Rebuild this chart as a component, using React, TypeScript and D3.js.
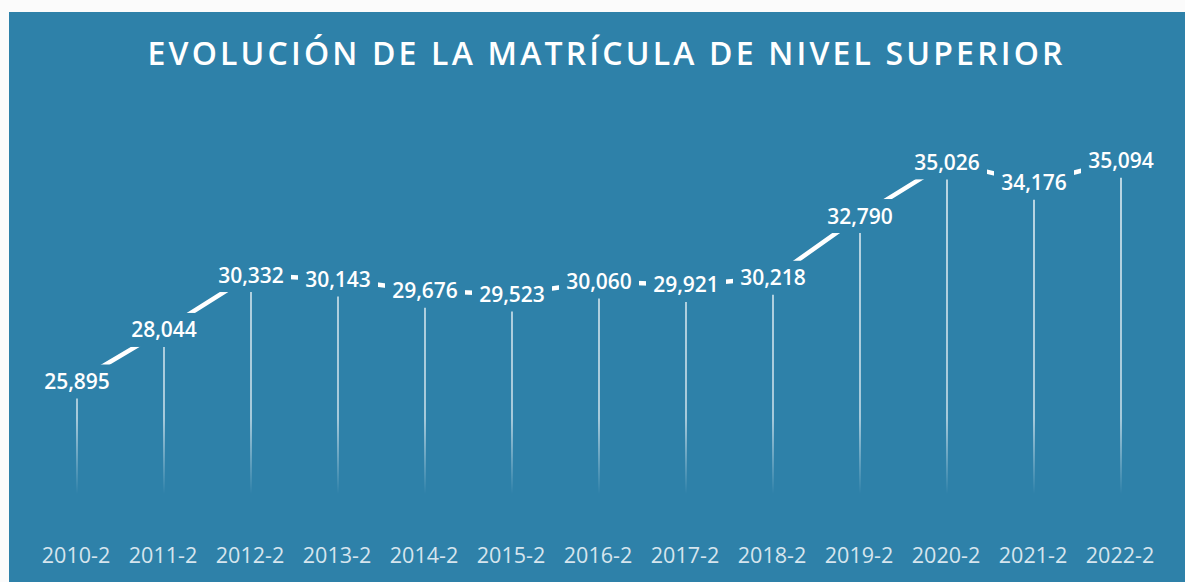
import React from "react";
import * as d3 from "d3";

const categories = ["2010-2","2011-2","2012-2","2013-2","2014-2","2015-2","2016-2","2017-2","2018-2","2019-2","2020-2","2021-2","2022-2"];
const values = [25895, 28044, 30332, 30143, 29676, 29523, 30060, 29921, 30218, 32790, 35026, 34176, 35094];
const title = "EVOLUCIÓN DE LA MATRÍCULA DE NIVEL SUPERIOR";

const W = 1185, H = 582;
const BG = "#2e81a9";

export default function App() {
  const x = d3.scalePoint<string>().domain(categories).range([77, 1121]);
  const y = d3.scaleLinear().domain([20000, 36000]).range([523, 139]);
  const fmt = d3.format(",");
  const pts = categories.map((c, i) => ({ c, v: values[i], x: x(c) as number, y: y(values[i]) }));
  const line = d3.line<{ x: number; y: number }>().x(d => d.x).y(d => d.y);
  const dropBottom = 494;

  return (
    <div style={{ position: "fixed", left: 0, top: 0, width: W, height: H, background: "#fbfbfb" }}>
      <svg width={W} height={H} style={{ display: "block" }}>
        <defs>
          <linearGradient id="dropGrad" gradientUnits="userSpaceOnUse" x1="0" y1="150" x2="0" y2={dropBottom}>
            <stop offset="0" stopColor="#ffffff" stopOpacity={0.85} />
            <stop offset="0.78" stopColor="#ffffff" stopOpacity={0.72} />
            <stop offset="1" stopColor="#ffffff" stopOpacity={0} />
          </linearGradient>
          <mask id="lineMask" maskUnits="userSpaceOnUse" x="0" y="0" width={W} height={H}>
            <rect x={0} y={0} width={W} height={H} fill="white" />
            {pts.map(p => (
              <rect key={p.c} x={p.x - 40} y={p.y - 17} width={80} height={34} fill="black" />
            ))}
          </mask>
        </defs>
        <rect x={9} y={12} width={W - 9} height={H - 12} fill={BG} />
        <text
          x={605}
          y={65}
          textAnchor="middle"
          fill="#ffffff"
          fontFamily="'Open Sans', 'Noto Sans', sans-serif"
          fontWeight={600}
          fontSize={32}
          textLength={915}
          lengthAdjust="spacing"
        >
          {title}
        </text>
        {pts.map(p => (
          <line key={"d" + p.c} x1={p.x} x2={p.x} y1={p.y + 17} y2={dropBottom} stroke="url(#dropGrad)" strokeWidth={1.6} />
        ))}
        <path d={line(pts) || ""} fill="none" stroke="#ffffff" strokeWidth={4.5} mask="url(#lineMask)" />
        {pts.map(p => (
          <text
            key={"l" + p.c}
            x={p.x}
            y={p.y + 7.5}
            textAnchor="middle"
            fill="#ffffff"
            fontFamily="'Open Sans', 'Noto Sans', sans-serif"
            fontWeight={600}
            fontSize={21}
          >
            {fmt(p.v)}
          </text>
        ))}
        {pts.map(p => (
          <text
            key={"x" + p.c}
            x={p.x - 1}
            y={563}
            textAnchor="middle"
            fill="#d6e5ee"
            fontFamily="'Open Sans', 'Noto Sans', sans-serif"
            fontWeight={400}
            fontSize={21.5}
          >
            {p.c}
          </text>
        ))}
      </svg>
    </div>
  );
}
